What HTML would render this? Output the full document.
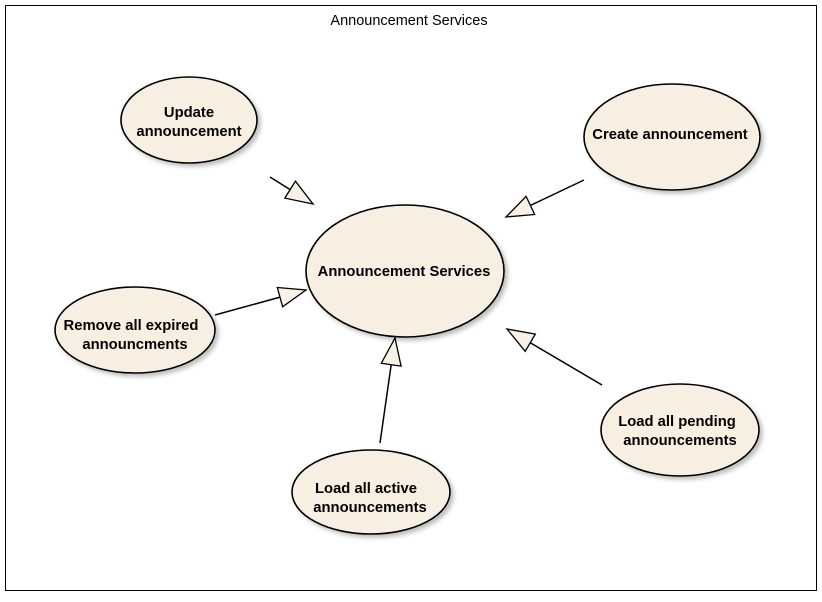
<!DOCTYPE html>
<html><head><meta charset="utf-8"><style>
html,body{margin:0;padding:0;background:#fff;}
svg text{font-family:"Liberation Sans",sans-serif;}
</style></head><body>
<svg width="822" height="597" viewBox="0 0 822 597" xmlns="http://www.w3.org/2000/svg">
<defs>
<marker id="tri" markerWidth="30" markerHeight="24" refX="28" refY="12" orient="auto" markerUnits="userSpaceOnUse">
<path d="M1,2 L28,12 L1,22 Z" fill="#f8f1e6" stroke="#000" stroke-width="1.3"/>
</marker>
<filter id="sh" x="-10%" y="-10%" width="130%" height="130%"><feDropShadow dx="3" dy="3" stdDeviation="2" flood-color="#000" flood-opacity="0.25"/></filter>
</defs>
<rect x="5.5" y="5.5" width="811" height="585" fill="#fff" stroke="#000" stroke-width="1"/>
<text x="409" y="25" font-size="14.5" text-anchor="middle">Announcement Services</text>
<g fill="#f8efe3" stroke="#000" stroke-width="1.6" filter="url(#sh)">
<ellipse cx="405" cy="271" rx="99" ry="66"/>
<ellipse cx="189" cy="120" rx="68" ry="43"/>
<ellipse cx="672" cy="137" rx="88" ry="53"/>
<ellipse cx="135" cy="330" rx="80" ry="43"/>
<ellipse cx="371" cy="492" rx="79" ry="42"/>
<ellipse cx="680" cy="430" rx="79" ry="46"/>
</g>
<g stroke="#000" stroke-width="1.5" fill="none" marker-end="url(#tri)">
<line x1="270" y1="177" x2="313" y2="204"/>
<line x1="584" y1="180" x2="506" y2="217"/>
<line x1="215" y1="315" x2="306" y2="290"/>
<line x1="380" y1="443" x2="395" y2="338"/>
<line x1="602" y1="385" x2="507" y2="329"/>
</g>
<g font-size="14.8" font-weight="bold" text-anchor="middle" fill="#000">
<text x="404" y="276">Announcement Services</text>
<text x="189" y="117">Update</text>
<text x="189" y="136">announcement</text>
<text x="670" y="139">Create announcement</text>
<text x="131" y="330">Remove all expired</text>
<text x="135" y="349">announcments</text>
<text x="366" y="493">Load all active</text>
<text x="370" y="512">announcements</text>
<text x="677" y="426">Load all pending</text>
<text x="680" y="445">announcements</text>
</g>
</svg>
</body></html>
